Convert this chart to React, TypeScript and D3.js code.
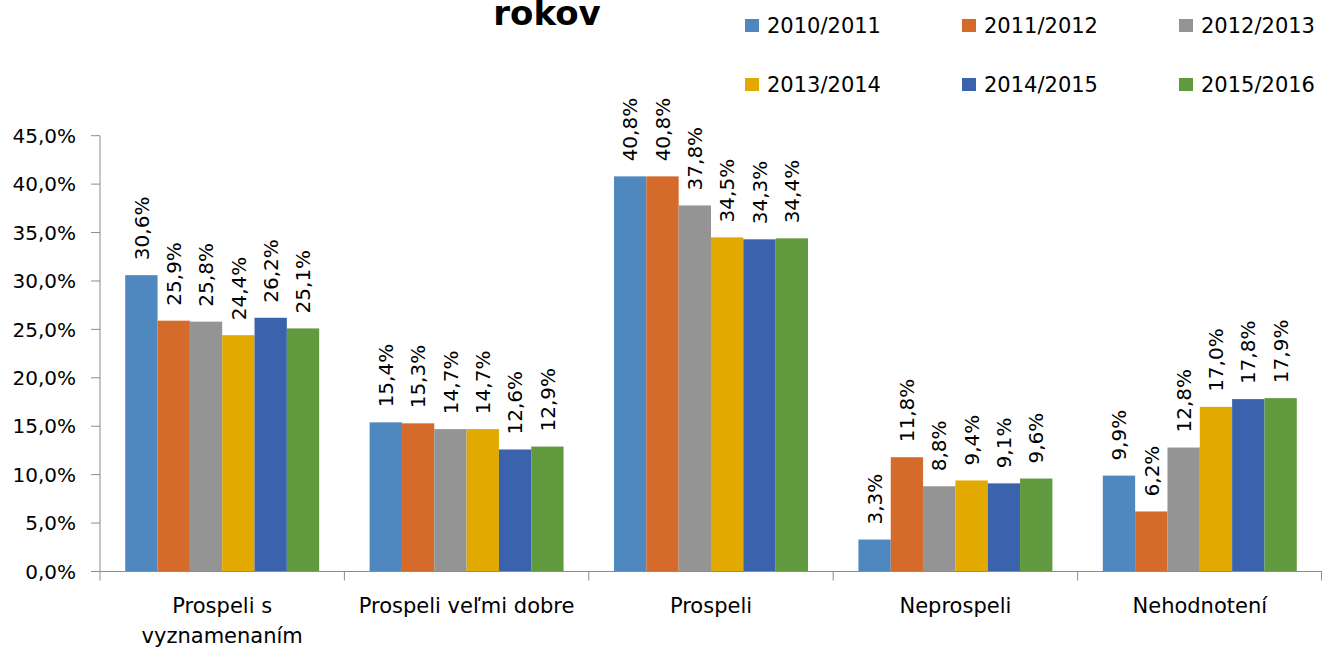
import React from "react";
import * as d3 from "d3";

const categories = [
  ["Prospeli s", "vyznamenaním"],
  ["Prospeli veľmi dobre"],
  ["Prospeli"],
  ["Neprospeli"],
  ["Nehodnotení"],
];
const seriesNames = ["2010/2011", "2011/2012", "2012/2013", "2013/2014", "2014/2015", "2015/2016"];
const seriesColors = ["#4e88be", "#d46b2b", "#949494", "#e2a900", "#3b62ad", "#60993e"];
const s2010 = [30.6, 15.4, 40.8, 3.3, 9.9];
const s2011 = [25.9, 15.3, 40.8, 11.8, 6.2];
const s2012 = [25.8, 14.7, 37.8, 8.8, 12.8];
const s2013 = [24.4, 14.7, 34.5, 9.4, 17.0];
const s2014 = [26.2, 12.6, 34.3, 9.1, 17.8];
const s2015 = [25.1, 12.9, 34.4, 9.6, 17.9];
const seriesValues = [s2010, s2011, s2012, s2013, s2014, s2015];
const yTicks = [0, 5, 10, 15, 20, 25, 30, 35, 40, 45];
const titleText = "rokov";

const W = 1322;
const H = 648;
const FONT = "'DejaVu Sans', sans-serif";

export default function App() {
  const catKeys = categories.map((c) => c.join(" "));
  const x0 = d3.scaleBand<string>().domain(catKeys).range([100, 1322]).paddingInner(0).paddingOuter(0);
  const x1 = d3
    .scaleBand<string>()
    .domain(seriesNames)
    .range([0, x0.bandwidth()])
    .paddingInner(0)
    .paddingOuter(0.78);
  const y = d3.scaleLinear().domain([0, 45]).range([571.5, 135.7]);
  const fmt = (v: number) => v.toFixed(1).replace(".", ",") + "%";
  const axisColor = "#8c8c8c";

  return (
    <svg width={W} height={H} style={{ position: "absolute", left: 0, top: 0 }} fontFamily={FONT}>
      <rect width={W} height={H} fill="#ffffff" />
      <text x={547} y={25} textAnchor="middle" fontSize={34} fontWeight="bold" fill="#000">
        {titleText}
      </text>
      {/* legend */}
      {seriesNames.map((name, i) => {
        const col = i % 3;
        const row = Math.floor(i / 3);
        const mx = 745 + col * 217;
        const my = 19 + row * 59;
        return (
          <g key={name}>
            <rect x={mx} y={my} width={14} height={13} fill={seriesColors[i]} />
            <text x={mx + 22} y={my + 14} fontSize={21} fill="#000">
              {name}
            </text>
          </g>
        );
      })}
      {/* y axis */}
      <line x1={100} x2={100} y1={y(45)} y2={y(0)} stroke={axisColor} strokeWidth={1} />
      {yTicks.map((t) => (
        <g key={t}>
          <line x1={91} x2={100} y1={y(t)} y2={y(t)} stroke={axisColor} strokeWidth={1} />
          <text x={76} y={y(t)} dy="0.36em" textAnchor="end" fontSize={20} fill="#000">
            {fmt(t)}
          </text>
        </g>
      ))}
      {/* bars */}
      {catKeys.map((ck, ci) => (
        <g key={ck} transform={`translate(${x0(ck)},0)`}>
          {seriesNames.map((sn, si) => {
            const v = seriesValues[si][ci];
            const bx = x1(sn)!;
            const bw = x1.bandwidth();
            return (
              <rect key={sn} x={bx} y={y(v)} width={bw} height={y(0) - y(v)} fill={seriesColors[si]} />
            );
          })}
          {seriesNames.map((sn, si) => {
            const v = seriesValues[si][ci];
            const cx = x1(sn)! + x1.bandwidth() / 2;
            const ty = y(v) - 15;
            return (
              <text
                key={sn + "l"}
                transform={`translate(${cx},${ty}) rotate(-90)`}
                dy="0.36em"
                textAnchor="start"
                fontSize={20}
                fill="#000"
              >
                {fmt(v)}
              </text>
            );
          })}
        </g>
      ))}
      {/* x axis */}
      <line x1={91} x2={1322} y1={y(0)} y2={y(0)} stroke={axisColor} strokeWidth={1} />
      {catKeys.map((ck) => (
        <line key={ck + "t"} x1={x0(ck)!} x2={x0(ck)!} y1={y(0)} y2={y(0) + 9} stroke={axisColor} />
      ))}
      <line x1={1321.5} x2={1321.5} y1={y(0)} y2={y(0) + 9} stroke={axisColor} />
      {categories.map((lines, ci) => {
        const cx = x0(catKeys[ci])! + x0.bandwidth() / 2;
        return (
          <text key={ci} x={cx} y={613} textAnchor="middle" fontSize={21} fill="#000">
            {lines.map((ln, li) => (
              <tspan key={li} x={cx} dy={li === 0 ? 0 : 30}>
                {ln}
              </tspan>
            ))}
          </text>
        );
      })}
    </svg>
  );
}
